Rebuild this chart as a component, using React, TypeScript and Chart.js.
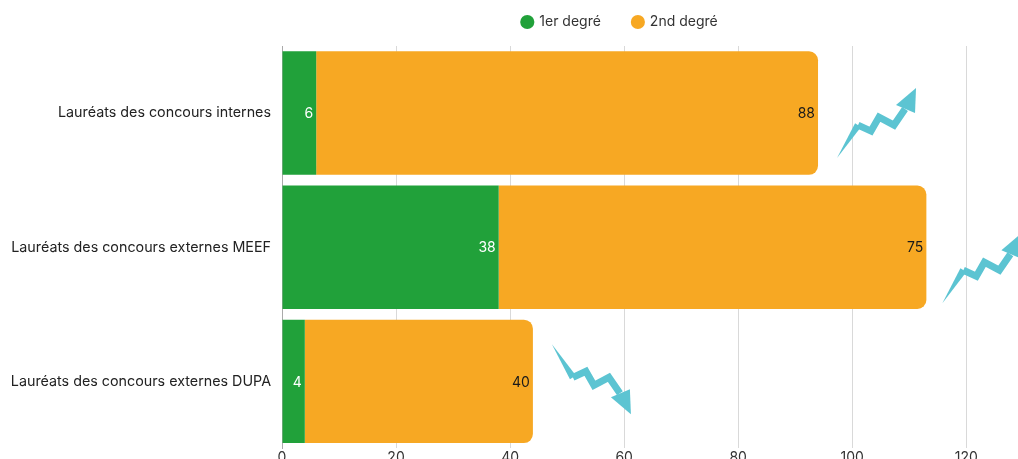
import React, { useEffect, useRef } from "react";
import { Chart, registerables } from "chart.js";

Chart.register(...registerables);

const categories = [
  "Lauréats des concours internes",
  "Lauréats des concours externes MEEF",
  "Lauréats des concours externes DUPA",
];
const firstDegree = [6, 38, 4];
const secondDegree = [88, 75, 40];
const trends = ["up", "up", "down"];
const seriesNames = ["1er degré", "2nd degré"];

const GREEN = "#21a13a";
const ORANGE = "#f7a823";
const TEAL = "#5cc4d2";
const FONT = "Inter, 'Open Sans', sans-serif";

// arrow anchor offsets (relative to end of stacked bar, bar center y)
const arrowOffsets = [
  [19, 45],
  [16, 56],
  [19, -37],
];

const legendGap = {
  id: "legendGap",
  beforeLayout(chart: any) {
    const lg = chart.legend;
    if (lg && !lg._gapPatched) {
      const orig = lg.fit;
      lg.fit = function () {
        orig.call(this);
        this.height += 7;
      };
      lg._gapPatched = true;
    }
  },
};

const valueLabels = {
  id: "valueLabels",
  afterDatasetsDraw(chart: any) {
    const ctx = chart.ctx;
    ctx.save();
    ctx.font = `14px ${FONT}`;
    ctx.textAlign = "right";
    ctx.textBaseline = "middle";
    chart.data.datasets.forEach((ds: any, di: number) => {
      const meta = chart.getDatasetMeta(di);
      meta.data.forEach((el: any, i: number) => {
        ctx.fillStyle = di === 0 ? "#ffffff" : "#1a1a1a";
        ctx.fillText(String(ds.data[i]), el.x - 3, el.y + 1);
      });
    });
    ctx.restore();
  },
};

const trendArrows = {
  id: "trendArrows",
  afterDatasetsDraw(chart: any) {
    const ctx = chart.ctx;
    const meta = chart.getDatasetMeta(1);
    // shape for an upward arrow, relative to the start point
    const pts = [
      [0, 0],
      [21, -33],
      [34, -27],
      [42, -41],
      [57, -33],
      [68, -49],
    ];
    const tip = [79, -70];
    const wingL = [59, -53];
    const wingR = [78, -45];
    ctx.save();
    ctx.fillStyle = TEAL;
    ctx.strokeStyle = TEAL;
    meta.data.forEach((el: any, i: number) => {
      const s = trends[i] === "up" ? 1 : -1;
      const ox = el.x + arrowOffsets[i][0];
      const oy = el.y + arrowOffsets[i][1];
      const P = (p: number[]) => [ox + p[0], oy + s * p[1]];
      const a = P(pts[0]);
      const b = P(pts[1]);
      const dx = b[0] - a[0];
      const dy = b[1] - a[1];
      const len = Math.hypot(dx, dy);
      const nx = (-dy / len) * 3.5;
      const ny = (dx / len) * 3.5;
      ctx.beginPath();
      ctx.moveTo(a[0], a[1]);
      ctx.lineTo(b[0] + nx, b[1] + ny);
      ctx.lineTo(b[0] - nx, b[1] - ny);
      ctx.closePath();
      ctx.fill();
      ctx.beginPath();
      ctx.lineWidth = 7;
      ctx.lineJoin = "miter";
      ctx.lineCap = "butt";
      for (let k = 1; k < pts.length; k++) {
        const q = P(pts[k]);
        if (k === 1) ctx.moveTo(q[0], q[1]);
        else ctx.lineTo(q[0], q[1]);
      }
      ctx.stroke();
      const t = P(tip);
      const l = P(wingL);
      const r = P(wingR);
      ctx.beginPath();
      ctx.moveTo(t[0], t[1]);
      ctx.lineTo(l[0], l[1]);
      ctx.lineTo(r[0], r[1]);
      ctx.closePath();
      ctx.fill();
    });
    ctx.restore();
  },
};

export default function App() {
  const ref = useRef<HTMLCanvasElement | null>(null);
  useEffect(() => {
    if (!ref.current) return;
    const chart = new Chart(ref.current, {
      type: "bar",
      data: {
        labels: categories,
        datasets: [
          {
            label: seriesNames[0],
            data: firstDegree,
            backgroundColor: GREEN,
            borderRadius: 0,
            barPercentage: 1,
            categoryPercentage: 0.92,
          },
          {
            label: seriesNames[1],
            data: secondDegree,
            backgroundColor: ORANGE,
            borderRadius: 9,
            borderSkipped: "start",
            barPercentage: 1,
            categoryPercentage: 0.92,
          },
        ],
      },
      options: {
        indexAxis: "y",
        animation: false,
        responsive: true,
        maintainAspectRatio: false,
        layout: { padding: 0 },
        plugins: {
          tooltip: { enabled: false },
          legend: {
            position: "top",
            align: "center",
            labels: {
              usePointStyle: true,
              pointStyle: "circle",
              boxWidth: 10,
              boxHeight: 10,
              padding: 32,
              color: "#333333",
              font: { family: FONT, size: 14 },
            },
          },
        },
        scales: {
          x: {
            stacked: true,
            min: 0,
            max: 168,
            ticks: {
              stepSize: 20,
              includeBounds: false,
              color: "#333333",
              font: { family: FONT, size: 14 },
              padding: 1,
            },
            grid: { color: "#d9d9d9", drawTicks: false },
            border: { display: false },
          },
          y: {
            stacked: true,
            ticks: {
              color: "#222222",
              font: { family: FONT, size: 14.3 },
              padding: 11,
            },
            grid: { display: false, drawTicks: false },
            border: { display: true, color: "#aaaaaa" },
            afterFit: (scale: any) => {
              scale.width = 282;
            },
          },
        },
      },
      plugins: [legendGap, valueLabels, trendArrows],
    });
    return () => chart.destroy();
  }, []);
  return (
    <div
      style={{
        position: "absolute",
        left: 0,
        top: 0,
        width: 1018,
        height: 459,
        overflow: "hidden",
        background: "#ffffff",
      }}
    >
      <div style={{ position: "absolute", left: 0, top: -17, width: 1240, height: 485 }}>
        <canvas ref={ref} />
      </div>
    </div>
  );
}
